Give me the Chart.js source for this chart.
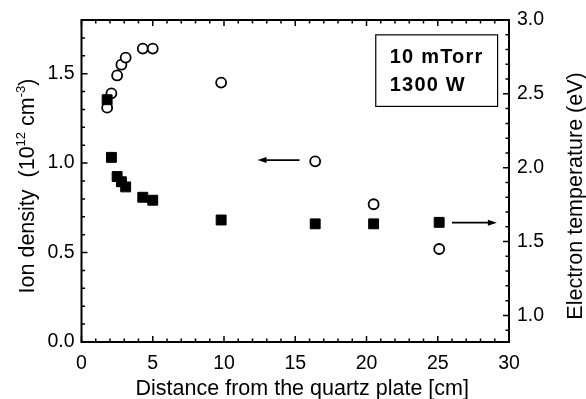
<!DOCTYPE html>
<html>
<head>
<meta charset="utf-8">
<script src="https://cdn.jsdelivr.net/npm/chart.js@4"></script>
<style>
  html, body { margin: 0; padding: 0; background: #fff; }
  #wrap { width: 586px; height: 399px; }
</style>
</head>
<body>
<div id="wrap"><canvas id="chart" width="586" height="399"></canvas></div>
<script>
// 데이터
const distance = [1.8, 2.1, 2.5, 2.8, 3.1, 4.3, 5.0, 9.8, 16.4, 20.5, 25.1];
const ionDensity = [1.31, 1.39, 1.49, 1.55, 1.59, 1.64, 1.64, 1.45, 1.01, 0.77, 0.52];
const electronTemp = [2.46, 2.07, 1.94, 1.905, 1.87, 1.80, 1.78, 1.646, 1.62, 1.62, 1.63];

// 눈금 라벨
const xTicks = [0, 5, 10, 15, 20, 25, 30];
const leftTicks = [0.0, 0.5, 1.0, 1.5];
const rightTicks = [1.0, 1.5, 2.0, 2.5, 3.0];

const FONT = '"Liberation Sans", Arial, Helvetica, sans-serif';
const tickFont = { family: FONT, size: 19.5 };

// 화살표 / 주석 (데이터 좌표)
const arrows = [
    { axis: 'y', from: [15.3, 1.017], to: [12.35, 1.017] },
    { axis: 'y2', from: [26.0, 1.628], to: [29.15, 1.628] }
];
const noteBox = { x0: 20.65, x1: 29.2, y0: 1.717, y1: 1.317, lines: ['10 mTorr', '1300 W'] };

function points(ys) {
    return distance.map((x, i) => ({ x: x, y: ys[i] }));
}

// 프레임, 안쪽 눈금, 축 제목, 화살표
const framePlugin = {
    id: 'frame',
    afterDatasetsDraw(chart) {
        const ctx = chart.ctx;
        const a = chart.chartArea;
        const sx = chart.scales.x, sy = chart.scales.y, sy2 = chart.scales.y2;
        ctx.save();
        ctx.strokeStyle = '#000';
        ctx.fillStyle = '#000';

        // 테두리
        ctx.lineWidth = 2;
        ctx.strokeRect(a.left, a.top, a.right - a.left, a.bottom - a.top);

        // 눈금
        ctx.lineWidth = 1.5;
        ctx.beginPath();
        for (let i = 0; i <= 30; i++) {
            const px = sx.getPixelForValue(i);
            const len = i % 5 === 0 ? 6 : 3.5;
            ctx.moveTo(px, a.bottom); ctx.lineTo(px, a.bottom - len);
            ctx.moveTo(px, a.top); ctx.lineTo(px, a.top + len);
        }
        for (let i = 1; i <= 18; i++) {
            const py = sy.getPixelForValue(i / 10);
            const len = i % 5 === 0 ? 6 : 3.5;
            ctx.moveTo(a.left, py); ctx.lineTo(a.left + len, py);
        }
        for (let i = 9; i <= 30; i++) {
            const py = sy2.getPixelForValue(i / 10);
            const len = i % 5 === 0 ? 6 : 3.5;
            ctx.moveTo(a.right, py); ctx.lineTo(a.right - len, py);
        }
        ctx.stroke();

        // 화살표
        arrows.forEach(ar => {
            const ys = chart.scales[ar.axis];
            const x1 = sx.getPixelForValue(ar.from[0]), y1 = ys.getPixelForValue(ar.from[1]);
            const x2 = sx.getPixelForValue(ar.to[0]), y2 = ys.getPixelForValue(ar.to[1]);
            const dir = Math.sign(x2 - x1);
            ctx.lineWidth = 1.8;
            ctx.beginPath();
            ctx.moveTo(x1, y1); ctx.lineTo(x2 - dir * 6, y2);
            ctx.stroke();
            ctx.beginPath();
            ctx.moveTo(x2, y2);
            ctx.lineTo(x2 - dir * 9, y2 - 3);
            ctx.lineTo(x2 - dir * 9, y2 + 3);
            ctx.closePath();
            ctx.fill();
        });

        // 조건 상자
        const bx0 = sx.getPixelForValue(noteBox.x0), bx1 = sx.getPixelForValue(noteBox.x1);
        const by0 = sy.getPixelForValue(noteBox.y0), by1 = sy.getPixelForValue(noteBox.y1);
        ctx.lineWidth = 1.2;
        ctx.strokeRect(bx0, by0, bx1 - bx0, by1 - by0);
        ctx.font = 'bold 20px ' + FONT;
        ctx.letterSpacing = '1.2px';
        ctx.textAlign = 'left';
        ctx.textBaseline = 'alphabetic';
        noteBox.lines.forEach((t, i) => ctx.fillText(t, bx0 + 14, by0 + 28 + i * 28.5));
        ctx.letterSpacing = '0px';

        // 축 제목
        ctx.font = '21.5px ' + FONT;
        ctx.textAlign = 'center';
        ctx.fillText('Distance from the quartz plate [cm]', (a.left + a.right) / 2 + 7, 394.5);

        drawRotated(ctx, 34, 186, [
            ['Ion density  (10', 21.5, 0], ['12', 13, 9], [' cm', 21.5, 0], ['-3', 13, 9], [')', 21.5, 0]
        ]);
        drawRotated(ctx, 582, 196, [['Electron temperature (eV)', 21.5, 0]]);
        ctx.restore();
    }
};

function drawRotated(ctx, x, y, parts) {
    ctx.save();
    ctx.translate(x, y);
    ctx.rotate(-Math.PI / 2);
    ctx.textAlign = 'left';
    let total = 0;
    parts.forEach(p => { ctx.font = p[1] + 'px ' + FONT; total += ctx.measureText(p[0]).width; });
    let cx = -total / 2;
    parts.forEach(p => {
        ctx.font = p[1] + 'px ' + FONT;
        ctx.fillText(p[0], cx, -p[2]);
        cx += ctx.measureText(p[0]).width;
    });
    ctx.restore();
}

const chart = new Chart(document.getElementById('chart').getContext('2d'), {
    type: 'scatter',
    data: {
        datasets: [{
            label: 'Electron temperature',
            data: points(electronTemp),
            yAxisID: 'y2',
            pointStyle: 'rect',
            pointRadius: 7,
            borderWidth: 1,
            borderColor: '#000',
            backgroundColor: '#000'
        }, {
            label: 'Ion density',
            data: points(ionDensity),
            yAxisID: 'y',
            pointStyle: 'circle',
            pointRadius: 5,
            borderWidth: 1.8,
            borderColor: '#000',
            backgroundColor: '#fff'
        }]
    },
    options: {
        responsive: false,
        animation: false,
        layout: { padding: { top: 20, left: 0, right: 0, bottom: 0 } },
        plugins: { legend: { display: false }, tooltip: { enabled: false } },
        scales: {
            x: {
                type: 'linear', position: 'bottom', min: 0, max: 30,
                afterBuildTicks: s => { s.ticks = xTicks.map(v => ({ value: v })); },
                afterFit: s => { s.height = 57; },
                grid: { display: false, drawTicks: false },
                border: { display: false },
                ticks: { font: tickFont, color: '#000', padding: 10, maxRotation: 0, autoSkip: false }
            },
            y: {
                type: 'linear', position: 'left', min: 0, max: 1.8,
                afterBuildTicks: s => { s.ticks = leftTicks.map(v => ({ value: v })); },
                afterFit: s => { s.width = 81.5; },
                grid: { display: false, drawTicks: false },
                border: { display: false },
                ticks: { font: tickFont, color: '#000', padding: 7, autoSkip: false, callback: v => v.toFixed(1) }
            },
            y2: {
                type: 'linear', position: 'right', min: 0.82, max: 3.0,
                afterBuildTicks: s => { s.ticks = rightTicks.map(v => ({ value: v })); },
                afterFit: s => { s.width = 77; },
                grid: { display: false, drawTicks: false },
                border: { display: false },
                ticks: { font: tickFont, color: '#000', padding: 8, autoSkip: false, callback: v => v.toFixed(1) }
            }
        }
    },
    plugins: [framePlugin]
});
</script>
</body>
</html>
